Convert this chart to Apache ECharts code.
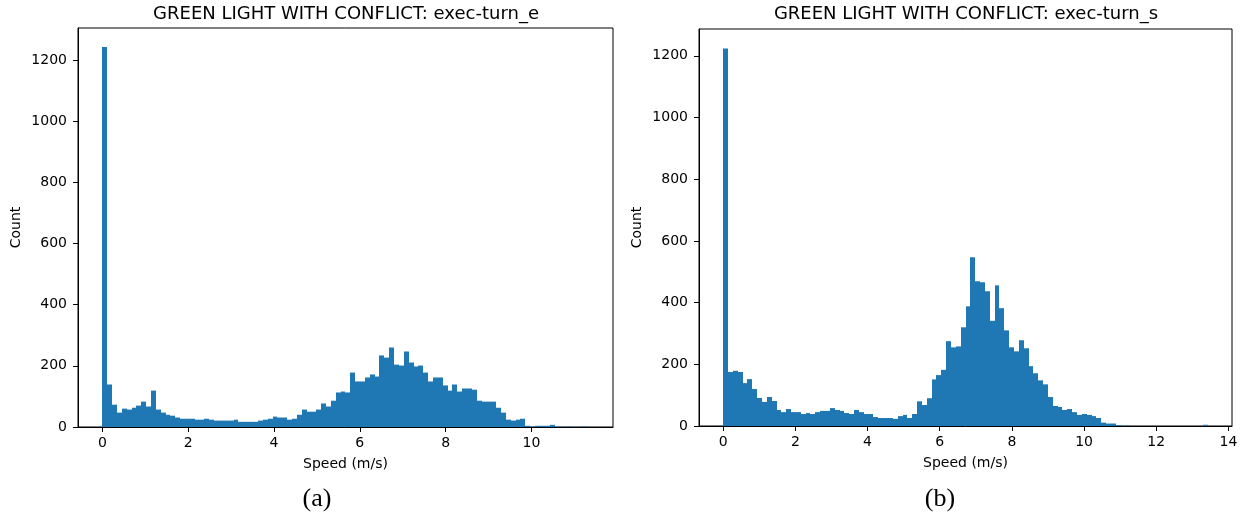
<!DOCTYPE html>
<html>
<head>
<meta charset="utf-8">
<script src="https://cdn.jsdelivr.net/npm/echarts@6/dist/echarts.min.js"></script>
<style>
  html, body { margin: 0; padding: 0; background: #fff; }
  #container { width: 1248px; height: 516px; }
</style>
</head>
<body>
<div id="container"></div>
<script>
let chart = echarts.init(document.getElementById('container'));

// histogram counts, 100 bins each
var countsE = [
    1243, 139, 73, 47, 60, 57, 63, 70, 83, 67,
    119, 57, 47, 40, 37, 31, 27, 27, 27, 24,
    24, 27, 24, 21, 21, 21, 21, 24, 17, 17,
    17, 17, 21, 24, 27, 34, 31, 31, 24, 27,
    40, 57, 50, 50, 57, 77, 67, 86, 113, 116,
    113, 178, 149, 149, 162, 172, 165, 234, 227, 260,
    204, 201, 247, 211, 198, 201, 178, 149, 162, 162,
    136, 119, 139, 116, 126, 126, 122, 86, 83, 83,
    83, 63, 47, 24, 21, 24, 27, 4, 1, 4,
    4, 4, 7, 1, 1, 1, 1, 0, 1, 1
];
var countsS = [
    1224, 175, 179, 175, 139, 152, 120, 91, 78, 94,
    81, 52, 45, 55, 45, 45, 39, 42, 39, 45,
    49, 49, 58, 52, 49, 42, 39, 52, 45, 39,
    39, 29, 26, 26, 26, 23, 32, 36, 26, 39,
    80, 68, 90, 151, 165, 182, 275, 255, 258, 320,
    388, 547, 469, 466, 437, 341, 456, 382, 310, 255,
    242, 278, 252, 194, 171, 148, 135, 94, 65, 62,
    52, 55, 45, 36, 39, 36, 32, 26, 11, 8,
    8, 3, 1, 1, 0, 0, 0, 0, 0, 0,
    0, 0, 0, 0, 0, 0, 0, 0, 0, 4
];
// data range of each histogram (m/s)
var maxSpeedE = 11.33;
var maxSpeedS = 13.43;

var xTicksE = [0, 2, 4, 6, 8, 10];
var xTicksS = [0, 2, 4, 6, 8, 10, 12, 14];
var yTicks = [0, 200, 400, 600, 800, 1000, 1200];

var titles = ['GREEN LIGHT WITH CONFLICT: exec-turn_e', 'GREEN LIGHT WITH CONFLICT: exec-turn_s'];
var captions = ['(a)', '(b)'];

function toBins(counts, maxSpeed) {
    let w = maxSpeed / counts.length;
    return counts.map((c, i) => [i * w, (i + 1) * w, c]);
}

function renderBar(params, api) {
    let top = api.coord([api.value(0), api.value(2)]);
    let bottom = api.coord([api.value(1), 0]);
    // snap to whole pixels so neighbouring bars join without seams
    let x0 = Math.round(top[0]), x1 = Math.round(bottom[0]);
    return {
        type: 'rect',
        shape: { x: x0, y: top[1], width: x1 - x0, height: bottom[1] - top[1] },
        style: { fill: '#1f77b4' }
    };
}

var font = 'DejaVu Sans';

function xAxis(idx, min, max, ticks) {
    return {
        type: 'value', gridIndex: idx, min: min, max: max,
        name: 'Speed (m/s)', nameLocation: 'middle', nameGap: 30,
        nameTextStyle: { fontFamily: font, fontSize: 14, color: '#000' },
        axisLine: { show: true, onZero: false, lineStyle: { color: '#000', width: 1 } },
        axisTick: { show: true, customValues: ticks, length: 5, lineStyle: { color: '#000', width: 1 } },
        axisLabel: { customValues: ticks, margin: 9, fontFamily: font, fontSize: 14, color: '#000', formatter: v => String(v) },
        splitLine: { show: false }
    };
}

function yAxis(idx, max) {
    return {
        type: 'value', gridIndex: idx, min: 0, max: max,
        name: 'Count', nameLocation: 'middle', nameGap: 55, nameRotate: 90,
        nameTextStyle: { fontFamily: font, fontSize: 14, color: '#000' },
        axisLine: { show: true, onZero: false, lineStyle: { color: '#000', width: 1 } },
        axisTick: { show: true, customValues: yTicks, length: 5, lineStyle: { color: '#000', width: 1 } },
        axisLabel: { customValues: yTicks, margin: 11, fontFamily: font, fontSize: 14, color: '#000', formatter: v => String(v) },
        splitLine: { show: false }
    };
}

var option = {
    animation: false,
    backgroundColor: '#fff',
    grid: [
        { left: 78, top: 28, width: 535, height: 399, show: true, borderColor: '#000', borderWidth: 1, backgroundColor: 'transparent' },
        { left: 699, top: 29, width: 533, height: 397, show: true, borderColor: '#000', borderWidth: 1, backgroundColor: 'transparent' }
    ],
    xAxis: [
        xAxis(0, -0.567, 11.9, xTicksE),
        xAxis(1, -0.672, 14.1, xTicksS)
    ],
    yAxis: [
        yAxis(0, 1305),
        yAxis(1, 1287)
    ],
    series: [
        { type: 'custom', xAxisIndex: 0, yAxisIndex: 0, renderItem: renderBar, encode: { x: [0, 1], y: 2 }, data: toBins(countsE, maxSpeedE) },
        { type: 'custom', xAxisIndex: 1, yAxisIndex: 1, renderItem: renderBar, encode: { x: [0, 1], y: 2 }, data: toBins(countsS, maxSpeedS) }
    ],
    graphic: [
        { type: 'text', x: 346, y: 14, style: { text: titles[0], font: '18px "DejaVu Sans"', fill: '#000', textAlign: 'center', textVerticalAlign: 'middle' } },
        { type: 'text', x: 966, y: 14, style: { text: titles[1], font: '18px "DejaVu Sans"', fill: '#000', textAlign: 'center', textVerticalAlign: 'middle' } },
        { type: 'text', x: 317, y: 499, style: { text: captions[0], font: '26px "Liberation Serif"', fill: '#000', textAlign: 'center', textVerticalAlign: 'middle' } },
        { type: 'text', x: 940, y: 499, style: { text: captions[1], font: '26px "Liberation Serif"', fill: '#000', textAlign: 'center', textVerticalAlign: 'middle' } }
    ]
};
chart.setOption(option);
</script>
</body>
</html>
